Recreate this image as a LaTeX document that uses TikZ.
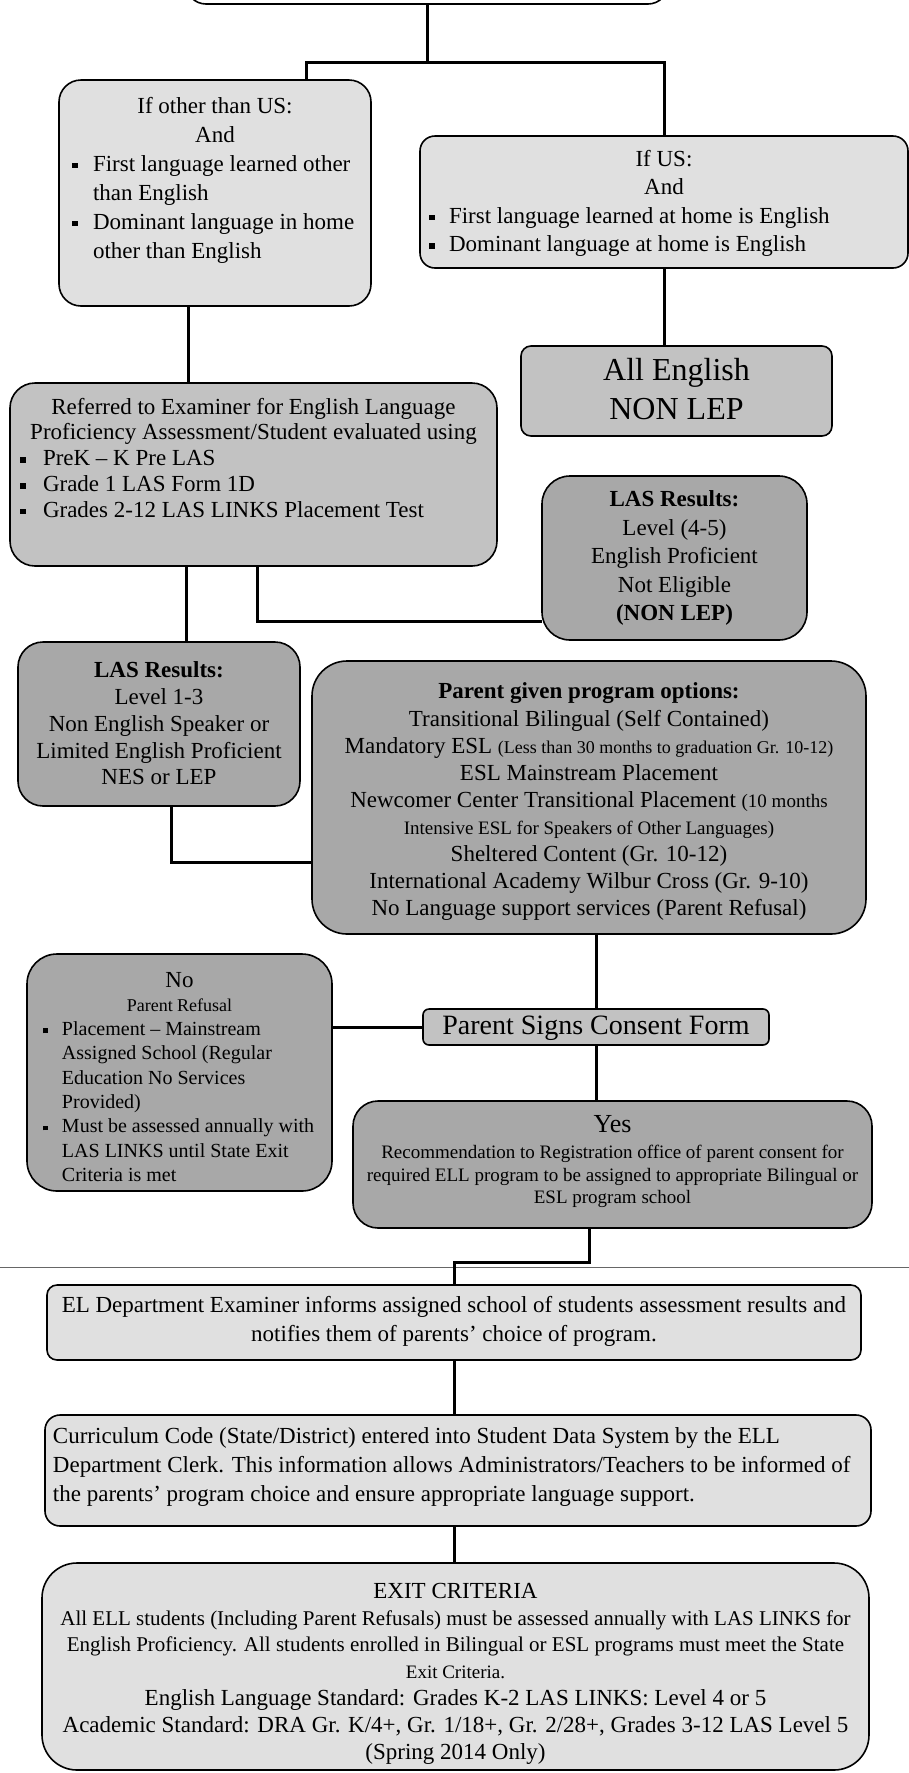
\documentclass[tikz,border=0pt]{standalone}
\usepackage{fontspec}
\setmainfont{Liberation Serif}
\usetikzlibrary{calc}
\newcommand{\bsq}{\rule[0.12em]{0.24em}{0.24em}}
\newcommand{\boxtext}[4]{\parbox[c][#2pt][t]{#1pt}{\vspace*{#3pt}#4}}
\tikzset{
  boxbase/.style={draw=black, line width=1.6pt, inner sep=0pt, outer sep=0pt},
  lite/.style={boxbase, fill=black!12},
  midg/.style={boxbase, fill=black!24},
  dark/.style={boxbase, fill=black!34},
  conn/.style={line width=3pt},
}
\begin{document}
\begin{tikzpicture}[x=1pt,y=-1pt]
\useasboundingbox (0,0) rectangle (909,1773);
\fill[white] (0,0) rectangle (909,1773);

% boxes
\node[boxbase, fill=white, rounded corners=20pt, minimum width=482pt, minimum height=60pt] (top) at (427,-26) {};

\node[lite, rounded corners=22pt] (other) at (215,193) {\boxtext{312}{226}{17}{\fontsize{23}{29}\selectfont
{\centering If other than US:\\And\par}\raggedright
\hspace*{13pt}\makebox[21pt][l]{\bsq}First language learned other\\
\hspace*{34pt}than English\\
\hspace*{13pt}\makebox[21pt][l]{\bsq}Dominant language in home\\
\hspace*{34pt}other than English\par}};

\node[lite, rounded corners=15pt] (us) at (664,202) {\boxtext{488}{132}{14}{\fontsize{23}{28.5}\selectfont
{\centering If US:\\And\par}\raggedright
\hspace*{9pt}\makebox[20pt][l]{\bsq}First language learned at home is English\\
\hspace*{9pt}\makebox[20pt][l]{\bsq}Dominant language at home is English\par}};

\node[midg, rounded corners=10pt] (ae) at (676.5,391) {\boxtext{311}{90}{12}{\centering\fontsize{32}{39}\selectfont All English\\NON LEP\par}};

\node[midg, rounded corners=25pt] (ref) at (253.5,474.5) {\boxtext{487}{183}{15}{\fontsize{23}{25.75}\selectfont
{\centering Referred to Examiner for English Language\\Proficiency Assessment/Student evaluated using\par}\raggedright
\hspace*{10pt}\makebox[23pt][l]{\bsq}PreK – K Pre LAS\\
\hspace*{10pt}\makebox[23pt][l]{\bsq}Grade 1 LAS Form 1D\\
\hspace*{10pt}\makebox[23pt][l]{\bsq}Grades 2-12 LAS LINKS Placement Test\par}};

\node[dark, rounded corners=28pt] (las45) at (674.5,558) {\boxtext{265}{164}{15}{\centering\fontsize{23}{28.5}\selectfont
\textbf{LAS Results:}\\Level (4-5)\\English Proficient\\Not Eligible\\\textbf{(NON LEP)}\par}};

\node[dark, rounded corners=25pt] (las13) at (159,724) {\boxtext{282}{164}{20}{\centering\fontsize{23}{26.75}\selectfont
\textbf{LAS Results:}\\Level 1-3\\Non English Speaker or\\Limited English Proficient\\NES or LEP\par}};

\node[dark, rounded corners=35pt] (pg) at (589,797.5) {\boxtext{554}{273}{22}{\centering\fontsize{23}{27.1}\selectfont
\textbf{Parent given program options:}\\
Transitional Bilingual (Self Contained)\\
Mandatory ESL {\fontsize{18}{27.1}\selectfont (Less than 30 months to graduation Gr. 10-12)}\\
ESL Mainstream Placement\\
Newcomer Center Transitional Placement {\fontsize{19}{27.1}\selectfont (10 months}\\
{\fontsize{19}{27.1}\selectfont Intensive ESL for Speakers of Other Languages)}\\
Sheltered Content (Gr. 10-12)\\
International Academy Wilbur Cross (Gr. 9-10)\\
No Language support services (Parent Refusal)\par}};

\node[midg, rounded corners=6pt] (ps) at (596,1027) {\boxtext{346}{36}{7}{\centering\fontsize{28}{30}\selectfont Parent Signs Consent Form\par}};

\node[dark, rounded corners=30pt] (no) at (179.5,1072.5) {\boxtext{305}{237}{18}{\fontsize{20}{24.3}\selectfont
{\centering{\fontsize{23}{24.3}\selectfont No}\\{\fontsize{18}{24.3}\selectfont Parent Refusal}\par}\raggedright
\hspace*{16pt}\makebox[19pt][l]{\bsq}Placement – Mainstream\\
\hspace*{35pt}Assigned School (Regular\\
\hspace*{35pt}Education No Services\\
\hspace*{35pt}Provided)\\
\hspace*{16pt}\makebox[19pt][l]{\bsq}Must be assessed annually with\\
\hspace*{35pt}LAS LINKS until State Exit\\
\hspace*{35pt}Criteria is met\par}};

\node[dark, rounded corners=25pt] (yes) at (612.5,1164.5) {\boxtext{519}{127}{14}{\centering
{\fontsize{26}{29}\selectfont Yes\par}\vspace{4pt}
{\fontsize{19}{22.5}\selectfont Recommendation to Registration office of parent consent for\\
required ELL program to be assigned to appropriate Bilingual or\\
ESL program school\par}}};

\node[lite, rounded corners=10pt] (el) at (454,1322.5) {\boxtext{814}{75}{11}{\centering\fontsize{23}{29}\selectfont
EL Department Examiner informs assigned school of students assessment results and\\
notifies them of parents’ choice of program.\par}};

\node[lite, rounded corners=15pt] (cur) at (458,1470.5) {\boxtext{826}{111}{13}{\raggedright\fontsize{23}{29}\selectfont
\hspace*{8pt}Curriculum Code (State/District) entered into Student Data System by the ELL\\
\hspace*{8pt}Department Clerk. This information allows Administrators/Teachers to be informed of\\
\hspace*{8pt}the parents’ program choice and ensure appropriate language support.\par}};

\node[lite, rounded corners=35pt] (exit) at (455.5,1666.5) {\boxtext{827}{207}{20}{\centering\fontsize{23}{26.8}\selectfont
EXIT CRITERIA\\
{\fontsize{21}{26.8}\selectfont All ELL students (Including Parent Refusals) must be assessed annually with LAS LINKS for\\
English Proficiency. All students enrolled in Bilingual or ESL programs must meet the State\\
{\fontsize{19}{26.8}\selectfont Exit Criteria.}}\\
English Language Standard: Grades K-2 LAS LINKS: Level 4 or 5\\
Academic Standard: DRA Gr. K/4+, Gr. 1/18+, Gr. 2/28+, Grades 3-12 LAS Level 5\\
(Spring 2014 Only)\par}};

% connectors
\coordinate (j1) at (427,62);
\draw[conn] (top.south) -- (j1);
\draw[conn] ([xshift=91pt]other.north) |- (j1) -| (us.north);
\draw[conn] ([xshift=-27pt]other.south) -- ([xshift=-27pt]other.south |- ref.north);
\draw[conn] (us.south) -- (us.south |- ae.north);
\draw[conn] ([xshift=-67.5pt]ref.south) -- ([xshift=-67.5pt]ref.south |- las13.north);
\draw[conn] ([xshift=3.5pt]ref.south) |- ([yshift=19pt]las45.south west);
\draw[conn] ([xshift=12pt]las13.south) |- ([yshift=-64.5pt]pg.west);
\draw[conn] (pg.south -| ps.north) -- (ps.north);
\draw[conn] (no.east |- ps.west) -- (ps.west);
\draw[conn] (ps.south) -- (ps.south |- yes.north);
\draw[line width=0.8pt, black!60] (0,1267) -- (909,1267);
\coordinate (j2) at (454,1262);
\draw[conn] ([xshift=-23.5pt]yes.south) |- (j2) -- (el.north);
\draw[conn] (el.south) -- (el.south |- cur.north);
\draw[conn] (el.south |- cur.south) -- (el.south |- exit.north);
\end{tikzpicture}
\end{document}
